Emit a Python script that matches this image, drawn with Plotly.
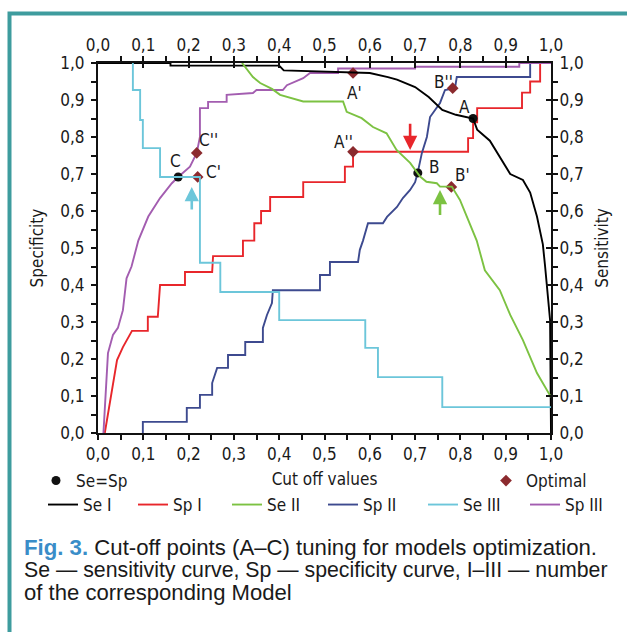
import plotly.graph_objects as go

# ---------------- data ----------------
se1_x = [0.0, 0.16, 0.16, 0.40, 0.41, 0.55, 0.60, 0.64, 0.66, 0.70, 0.73, 0.76, 0.79, 0.828,
         0.837, 0.865, 0.894, 0.91, 0.938, 0.954, 0.969, 0.982, 0.987, 0.993, 0.998, 1.0]
se1_y = [1.0, 1.0, 0.993, 0.993, 0.98, 0.975, 0.973, 0.962, 0.955, 0.935, 0.908, 0.873, 0.86, 0.85,
         0.82, 0.79, 0.73, 0.70, 0.684, 0.65, 0.585, 0.51, 0.45, 0.37, 0.305, 0.0]

sp1_x = [0.015, 0.02, 0.026, 0.031, 0.042, 0.055, 0.075, 0.11, 0.11, 0.132, 0.137, 0.192, 0.192,
         0.252, 0.254, 0.32, 0.32, 0.345, 0.345, 0.36, 0.36, 0.38, 0.38, 0.453, 0.453, 0.545, 0.545,
         0.563, 0.563, 0.817, 0.817, 0.828, 0.828, 0.837, 0.837, 0.936, 0.936, 0.954, 0.954, 0.976,
         0.976, 1.0]
sp1_y = [0.0, 0.035, 0.08, 0.116, 0.197, 0.232, 0.276, 0.276, 0.314, 0.314, 0.40, 0.40, 0.435,
         0.435, 0.478, 0.478, 0.52, 0.52, 0.567, 0.567, 0.60, 0.60, 0.638, 0.638, 0.678, 0.678, 0.72,
         0.72, 0.76, 0.76, 0.797, 0.797, 0.84, 0.84, 0.878, 0.878, 0.92, 0.92, 0.95, 0.95, 1.0, 1.0]

se2_x = [0.318, 0.342, 0.358, 0.384, 0.402, 0.453, 0.541, 0.549, 0.582, 0.607, 0.637, 0.659, 0.689,
         0.711, 0.725, 0.748, 0.755, 0.781, 0.799, 0.814, 0.836, 0.854, 0.887, 0.91, 0.938, 0.969, 1.0]
se2_y = [1.0, 0.962, 0.946, 0.93, 0.914, 0.896, 0.896, 0.868, 0.851, 0.827, 0.81, 0.765, 0.73,
         0.693, 0.679, 0.675, 0.666, 0.666, 0.63, 0.585, 0.52, 0.44, 0.386, 0.319, 0.251, 0.162, 0.097]

sp2_x = [0.099, 0.099, 0.196, 0.196, 0.225, 0.225, 0.252, 0.252, 0.263, 0.287, 0.287, 0.325, 0.325,
         0.364, 0.364, 0.373, 0.384, 0.386, 0.49, 0.49, 0.512, 0.512, 0.574, 0.578, 0.585, 0.596, 0.629,
         0.638, 0.66, 0.673, 0.689, 0.70, 0.706, 0.715, 0.726, 0.733, 0.755, 0.766, 0.788, 0.792, 0.954,
         0.954, 1.0]
sp2_y = [0.0, 0.03, 0.03, 0.068, 0.068, 0.103, 0.103, 0.135, 0.176, 0.176, 0.211, 0.211, 0.246,
         0.246, 0.284, 0.319, 0.351, 0.386, 0.386, 0.427, 0.427, 0.462, 0.462, 0.495, 0.52, 0.567, 0.567,
         0.584, 0.611, 0.635, 0.657, 0.678, 0.705, 0.757, 0.80, 0.854, 0.892, 0.927, 0.932, 0.962, 0.962,
         1.0, 1.0]

se3_x = [0.077, 0.077, 0.093, 0.093, 0.099, 0.099, 0.137, 0.137, 0.225, 0.225, 0.27, 0.27, 0.40,
         0.40, 0.59, 0.59, 0.618, 0.618, 0.76, 0.76, 1.0]
se3_y = [1.0, 0.927, 0.927, 0.846, 0.846, 0.77, 0.77, 0.692, 0.692, 0.46, 0.46, 0.381, 0.381,
         0.305, 0.305, 0.23, 0.23, 0.151, 0.151, 0.07, 0.07]

sp3_x = [0.012, 0.019, 0.022, 0.033, 0.044, 0.055, 0.063, 0.074, 0.089, 0.111, 0.137, 0.163, 0.177,
         0.203, 0.218, 0.225, 0.225, 0.243, 0.243, 0.284, 0.284, 0.342, 0.35, 0.408, 0.417, 0.453,
         0.468, 0.53, 0.53, 0.70, 0.70, 0.93, 0.93, 1.0]
sp3_y = [0.0, 0.143, 0.216, 0.265, 0.284, 0.332, 0.418, 0.45, 0.52, 0.585, 0.635, 0.675, 0.692,
         0.72, 0.757, 0.80, 0.878, 0.878, 0.895, 0.895, 0.914, 0.919, 0.927, 0.927, 0.94, 0.959,
         0.973, 0.973, 0.985, 0.985, 0.99, 0.99, 1.0, 1.0]

# Se = Sp points (A, B, C)
eq_names = ["A", "B", "C"]
eq_x = [0.828, 0.706, 0.177]
eq_y = [0.85, 0.703, 0.692]
eq_lx = [0.808, 0.742, 0.172]
eq_ly = [0.88, 0.72, 0.735]

# Optimal points
opt_names = ["A'", "A''", "B'", "B''", "C'", "C''"]
opt_x = [0.563, 0.563, 0.78, 0.783, 0.22, 0.218]
opt_y = [0.973, 0.76, 0.665, 0.932, 0.692, 0.757]
opt_lx = [0.567, 0.541, 0.805, 0.762, 0.254, 0.245]
opt_ly = [0.918, 0.787, 0.697, 0.949, 0.705, 0.792]

# arrows
arr_x = [0.689, 0.755, 0.207]
arr_tail = [0.84, 0.585, 0.60]
arr_head = [0.765, 0.657, 0.665]
arr_col = ["#e8262b", "#7cc242", "#6cc6da"]

series = [
    ("Se I", se1_x, se1_y, "#000000", "x2", "y2"),
    ("Sp I", sp1_x, sp1_y, "#e8262b", "x", "y"),
    ("Se II", se2_x, se2_y, "#7cc242", "x2", "y2"),
    ("Sp II", sp2_x, sp2_y, "#3d4a8f", "x", "y"),
    ("Se III", se3_x, se3_y, "#6cc6da", "x2", "y2"),
    ("Sp III", sp3_x, sp3_y, "#a35db0", "x", "y"),
]

FONT = "DejaVu Sans Condensed"
TXT = "#1a1a1a"

# pixel geometry of the plot area (layout only)
L, R, T, B, W, H = 98, 76, 63, 199, 627, 632
PW, PH = W - L - R, H - T - B
def px(p):
    return (p - L) / PW
def py(p):
    return (H - B - p) / PH

legend_ids = ["legend", "legend4", "legend5", "legend6", "legend7", "legend8"]
legend_left_px = [43, 133, 227, 323, 423, 525]

fig = go.Figure()
for (name, xs, ys, col, xa, ya), lid in zip(series, legend_ids):
    fig.add_trace(go.Scatter(x=xs, y=ys, mode="lines", name=name, xaxis=xa, yaxis=ya,
                             line=dict(color=col, width=1.9), legend=lid, showlegend=True))

fig.add_trace(go.Scatter(x=eq_x, y=eq_y, mode="markers", name="Se=Sp", showlegend=True,
                         marker=dict(color="#111111", size=9, symbol="circle"), legend="legend2"))
fig.add_trace(go.Scatter(x=opt_x, y=opt_y, mode="markers", name="Optimal", showlegend=True,
                         marker=dict(color="#8b2a2e", size=9, symbol="diamond"), legend="legend3"))

ann = []
for n, x, y in zip(eq_names + opt_names, eq_lx + opt_lx, eq_ly + opt_ly):
    ann.append(dict(x=x, y=y, xref="x", yref="y", text=n, showarrow=False,
                    font=dict(family=FONT, size=17, color=TXT), xanchor="center", yanchor="middle"))
for x, t, h, c in zip(arr_x, arr_tail, arr_head, arr_col):
    ann.append(dict(x=x, y=h, ax=x, ay=t, xref="x", yref="y", axref="x", ayref="y", text="",
                    showarrow=True, arrowhead=2, arrowsize=1.1, arrowwidth=2.6, arrowcolor=c))

# caption
cap_lines = [
    "<span style='color:#3a8dc8'><b>Fig. 3.</b></span> Cut-off points (A\u2013C) tuning for models optimization.",
    "Se \u2014 sensitivity curve, Sp \u2014 specificity curve, I\u2013III \u2014 number",
    "of the corresponding Model",
]
cap_y = [547, 570, 592]
cap_size = [22.2, 21.3, 22.1]
for t, yy, fs in zip(cap_lines, cap_y, cap_size):
    ann.append(dict(x=px(22), y=py(yy), xref="paper", yref="paper", text=t, showarrow=False,
                    xanchor="left", yanchor="middle", align="left",
                    font=dict(family="Liberation Sans, Arial", size=fs, color=TXT)))

axis_common = dict(range=[0, 1], dtick=0.1, tick0=0, tickformat=".1f", showgrid=False, zeroline=False,
                   showline=True, linecolor="#111111", linewidth=2, ticklen=5, tickwidth=1.5,
                   tickcolor="#111111", tickfont=dict(family=FONT, size=17, color=TXT),
                   minor=dict(dtick=0.05, tick0=0, ticklen=5, tickwidth=1.5, tickcolor="#111111"))

leg_font = dict(family=FONT, size=17, color=TXT)
legends = {}
for lid, lx in zip(legend_ids, legend_left_px):
    legends[lid] = dict(orientation="h", x=px(lx), xanchor="left", y=py(505), yanchor="middle",
                        font=leg_font, bgcolor="rgba(0,0,0,0)", itemwidth=30)
legends["legend2"] = dict(orientation="h", x=px(36), xanchor="left", y=py(481), yanchor="middle",
                          font=leg_font, bgcolor="rgba(0,0,0,0)")
legends["legend3"] = dict(orientation="h", x=px(486), xanchor="left", y=py(481), yanchor="middle",
                          font=leg_font, bgcolor="rgba(0,0,0,0)")

fig.update_layout(
    width=W, height=H,
    margin=dict(l=L, r=R, t=T, b=B),
    paper_bgcolor="white", plot_bgcolor="white",
    separators=", ",
    showlegend=True,
    font=dict(family=FONT, size=17, color=TXT),
    xaxis=dict(**axis_common, side="bottom", anchor="y", ticks="outside",
               title=dict(text="Cut off values", standoff=10, font=leg_font),
               ticklabelstandoff=0),
    xaxis2=dict(**axis_common, side="top", anchor="y2", overlaying="x", ticks="inside",
                ticklabelstandoff=3),
    yaxis=dict(**axis_common, side="left", anchor="x", ticks="outside",
               title=dict(text="Specificity", standoff=12, font=leg_font),
               ticklabelstandoff=3),
    yaxis2=dict(**axis_common, side="right", anchor="x2", overlaying="y", ticks="inside",
                title=dict(text="Sensitivity", standoff=13, font=leg_font),
                ticklabelstandoff=3),
    annotations=ann,
    shapes=[dict(type="rect", xref="paper", yref="paper",
                 x0=px(9.5), x1=px(640), y0=py(660), y1=py(13.5),
                 line=dict(color="#3e9c9e", width=4), fillcolor="rgba(0,0,0,0)", layer="below")],
    **legends,
)

fig.write_html("out.html")
